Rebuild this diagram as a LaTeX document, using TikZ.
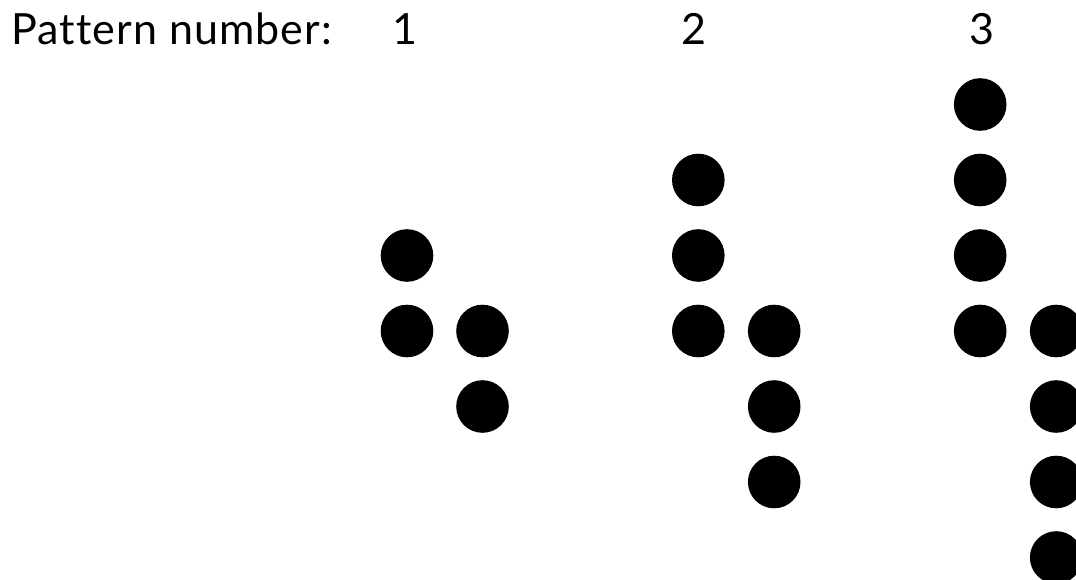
\documentclass[tikz,border=0pt]{standalone}
\usepackage{fontspec}
\setmainfont[Ligatures=NoCommon,LetterSpace=2.5]{Lato}
\begin{document}
\begin{tikzpicture}[x=1pt,y=-1pt,
  dot/.style={circle,fill=black,inner sep=0pt,minimum size=52.6pt},
  lbl/.style={inner sep=0pt,anchor=base,font=\fontsize{43}{50}\selectfont}]
\clip (0,0) rectangle (1076,580);
\node[lbl,anchor=base west] (title) at (11,45) {Pattern number:};
\node[lbl] (n1) at (405,45) {1};
\node[lbl] (n2) at (694,45) {2};
\node[lbl] (n3) at (982,45) {3};
% pattern 1
\node[dot] (a1) at (407,255.5) {};
\node[dot] (a2) at (407,331) {};
\node[dot] (a3) at (482.5,331) {};
\node[dot] (a4) at (482.5,406.5) {};
% pattern 2
\node[dot] (b1) at (698.3,180) {};
\node[dot] (b2) at (698.3,255.5) {};
\node[dot] (b3) at (698.3,331) {};
\node[dot] (b4) at (774.2,331) {};
\node[dot] (b5) at (774.2,406.5) {};
\node[dot] (b6) at (774.2,482) {};
% pattern 3
\node[dot] (c1) at (980.2,104.5) {};
\node[dot] (c2) at (980.2,180) {};
\node[dot] (c3) at (980.2,255.5) {};
\node[dot] (c4) at (980.2,331) {};
\node[dot] (c5) at (1056.2,331) {};
\node[dot] (c6) at (1056.2,406.5) {};
\node[dot] (c7) at (1056.2,482) {};
\node[dot] (c8) at (1056.2,557.5) {};
\end{tikzpicture}
\end{document}
